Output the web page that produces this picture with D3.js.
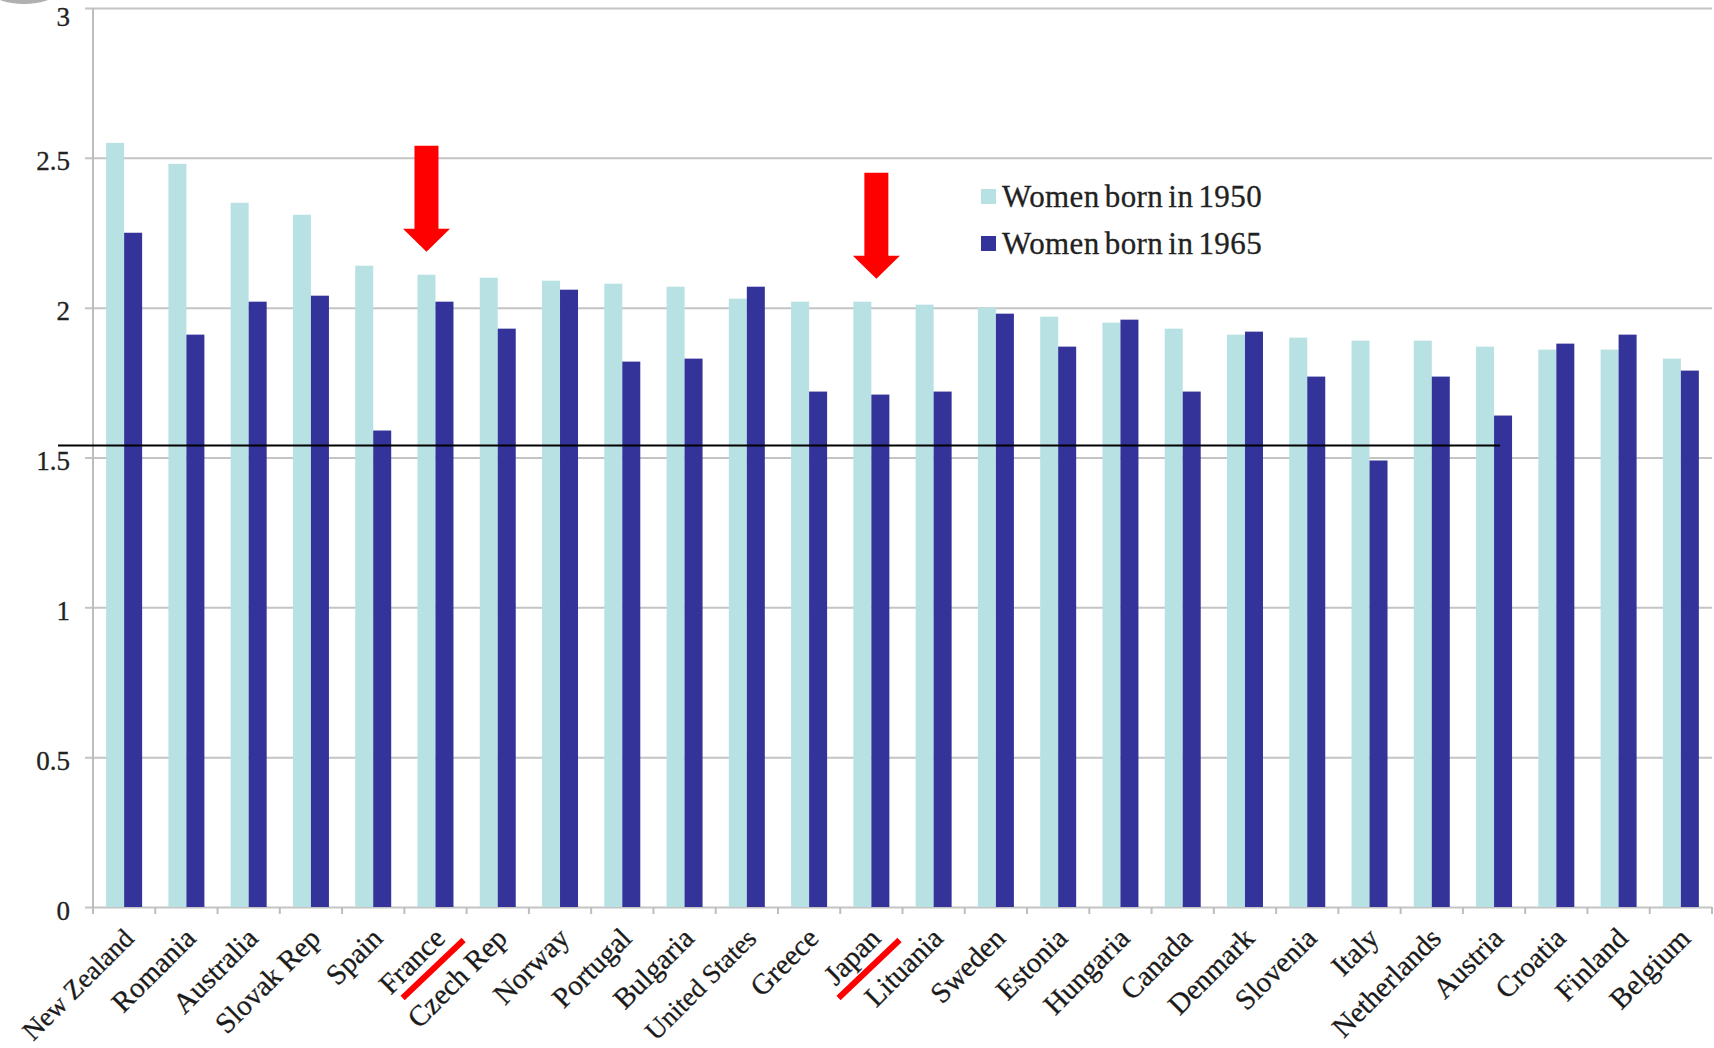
<!DOCTYPE html>
<html>
<head>
<meta charset="utf-8">
<script src="https://cdn.jsdelivr.net/npm/d3@7"></script>
<style>
  html, body { margin: 0; padding: 0; background: #fff; }
  svg { display: block; }
</style>
</head>
<body>
<svg id="chart" width="1714" height="1048"></svg>
<script>
// Completed fertility by country, two birth cohorts
const categories = [
  "New Zealand", "Romania", "Australia", "Slovak Rep", "Spain", "France",
  "Czech Rep", "Norway", "Portugal", "Bulgaria", "United States", "Greece",
  "Japan", "Lituania", "Sweden", "Estonia", "Hungaria", "Canada",
  "Denmark", "Slovenia", "Italy", "Netherlands", "Austria", "Croatia",
  "Finland", "Belgium"
];
const women1950 = [
  2.55, 2.48, 2.35, 2.31, 2.14, 2.11,
  2.10, 2.09, 2.08, 2.07, 2.03, 2.02,
  2.02, 2.01, 2.00, 1.97, 1.95, 1.93,
  1.91, 1.90, 1.89, 1.89, 1.87, 1.86,
  1.86, 1.83
];
const women1965 = [
  2.25, 1.91, 2.02, 2.04, 1.59, 2.02,
  1.93, 2.06, 1.82, 1.83, 2.07, 1.72,
  1.71, 1.72, 1.98, 1.87, 1.96, 1.72,
  1.92, 1.77, 1.49, 1.77, 1.64, 1.88,
  1.91, 1.79
];
const seriesNames = ["Women born in 1950", "Women born in 1965"];
const seriesKeys = ["1950", "1965"];
const yTicks = [0, 0.5, 1, 1.5, 2, 2.5, 3];
const referenceLevel = 1.54;          // horizontal black line
const referenceEnd = "Austria";        // line stops inside this group
const arrowCountries = ["France", "Japan"];
const arrowOffsets = [-9, 5];          // px shift of each arrow from the group centre
const slashBoundaries = [["France", "Czech Rep"], ["Japan", "Lituania"]];

const colors = { "1950": "#b8e1e4", "1965": "#333399" };
const serif = "'Liberation Serif', 'DejaVu Serif', serif";
const W = 1714, H = 1048;

const svg = d3.select("#chart");

const x = d3.scaleBand()
  .domain(categories)
  .range([93, 1712])
  .paddingInner(0.422)
  .paddingOuter(0.211);

const xSub = d3.scaleBand()
  .domain(seriesKeys)
  .range([0, x.bandwidth()]);

const y = d3.scaleLinear().domain([0, 3]).range([907, 8]);

// small grey mark in the top-left corner
svg.append("ellipse")
  .attr("cx", 24).attr("cy", -8).attr("rx", 32).attr("ry", 12)
  .attr("fill", "#b0b0b0");

// horizontal gridlines with y tick labels
const yAxis = d3.axisLeft(y)
  .tickValues(yTicks)
  .tickFormat(d3.format("~g"))
  .tickSize(-(1712 - 85))
  .tickPadding(15);

const gy = svg.append("g")
  .attr("transform", "translate(85,0)")
  .call(yAxis);
gy.select(".domain").remove();
gy.selectAll(".tick line").attr("stroke", "#c4c4c4").attr("stroke-width", 2);
gy.selectAll(".tick text")
  .attr("font-family", serif)
  .attr("font-size", 27)
  .attr("fill", "#222")
  .attr("stroke", "#222").attr("stroke-width", 0.3)
  .attr("dy", d => d === 3 ? "0.65em" : "0.45em");

// vertical axis line
svg.append("line")
  .attr("x1", 93).attr("x2", 93)
  .attr("y1", y(3)).attr("y2", y(0) + 1)
  .attr("stroke", "#bdbdbd").attr("stroke-width", 2);

// bars
const rows = categories.map((c, i) => ({ country: c, "1950": women1950[i], "1965": women1965[i] }));

const groups = svg.append("g").selectAll("g")
  .data(rows)
  .join("g")
  .attr("transform", d => `translate(${x(d.country)},0)`);

groups.selectAll("rect")
  .data(d => seriesKeys.map(k => ({ key: k, value: d[k] })))
  .join("rect")
  .attr("x", d => xSub(d.key))
  .attr("width", xSub.bandwidth())
  .attr("y", d => y(d.value))
  .attr("height", d => y(0) - y(d.value))
  .attr("fill", d => colors[d.key]);

// category ticks sit between the groups
const step = x.step();
const boundaries = categories.map(c => x(c) - step * x.paddingInner() / 2);
boundaries.push(x.range()[1]);
svg.append("g").selectAll("line")
  .data(boundaries)
  .join("line")
  .attr("x1", d => d).attr("x2", d => d)
  .attr("y1", y(0)).attr("y2", y(0) + 7)
  .attr("stroke", "#bdbdbd").attr("stroke-width", 2);

// rotated country labels
const labelDy = 33, labelFs = 29;
const xAxis = d3.axisBottom(x).tickSize(0);
const gx = svg.append("g")
  .attr("transform", `translate(0,${y(0)})`)
  .call(xAxis);
gx.select(".domain").remove();
gx.selectAll(".tick text")
  .attr("font-family", serif)
  .attr("font-size", labelFs)
  .attr("fill", "#1a1a1a")
  .attr("stroke", "#1a1a1a").attr("stroke-width", 0.3)
  .attr("text-anchor", "end")
  .attr("y", 0)
  .attr("dy", 0)
  .attr("transform", `translate(11,${labelDy}) rotate(-45)`)
  .each(function () {
    // long names would run past the bottom edge: shrink them to fit
    const s = Math.SQRT1_2;
    const room = H - 2 - (y(0) + labelDy);
    const len = this.getComputedTextLength();
    const need = len * s + 0.22 * labelFs * s;
    if (need > room) {
      d3.select(this).attr("font-size", labelFs * room / need);
    }
  });

// black reference line
const refEndX = x(referenceEnd) + xSub("1965") + 6;
svg.append("line")
  .attr("x1", 58).attr("x2", refEndX)
  .attr("y1", y(referenceLevel)).attr("y2", y(referenceLevel))
  .attr("stroke", "#000").attr("stroke-width", 2);

// red arrows above the highlighted countries
const arrowShape = (cx, tip) => {
  const shaftW = 24, headW = 47, headH = 23, len = 106;
  const top = tip - len, base = tip - headH;
  return `M${cx - shaftW / 2},${top} L${cx + shaftW / 2},${top} L${cx + shaftW / 2},${base}
          L${cx + headW / 2},${base} L${cx},${tip} L${cx - headW / 2},${base}
          L${cx - shaftW / 2},${base} Z`;
};
arrowCountries.forEach((c, i) => {
  const v = women1950[categories.indexOf(c)];
  const cx = x(c) + x.bandwidth() / 2 + arrowOffsets[i];
  svg.append("path")
    .attr("d", arrowShape(cx, y(v) - 23))
    .attr("fill", "#ff0000");
});

// red slashes between paired labels
slashBoundaries.forEach(([a, b]) => {
  const bx = x(b) - step * x.paddingInner() / 2;
  svg.append("line")
    .attr("x1", bx - 3).attr("y1", 940)
    .attr("x2", bx - 64).attr("y2", 998)
    .attr("stroke", "#ff0000").attr("stroke-width", 6);
});

// legend
const legend = svg.append("g").attr("transform", "translate(981,189)");
seriesKeys.forEach((k, i) => {
  const row = legend.append("g").attr("transform", `translate(0,${i * 47})`);
  row.append("rect")
    .attr("width", 15).attr("height", 15)
    .attr("fill", colors[k]);
  row.append("text")
    .attr("x", 21).attr("y", 18)
    .attr("font-family", serif)
    .attr("font-size", 31)
    .attr("letter-spacing", 0.4)
    .attr("word-spacing", -3)
    .attr("fill", "#222")
    .attr("stroke", "#222").attr("stroke-width", 0.3)
    .text(seriesNames[i]);
});
</script>
</body>
</html>
